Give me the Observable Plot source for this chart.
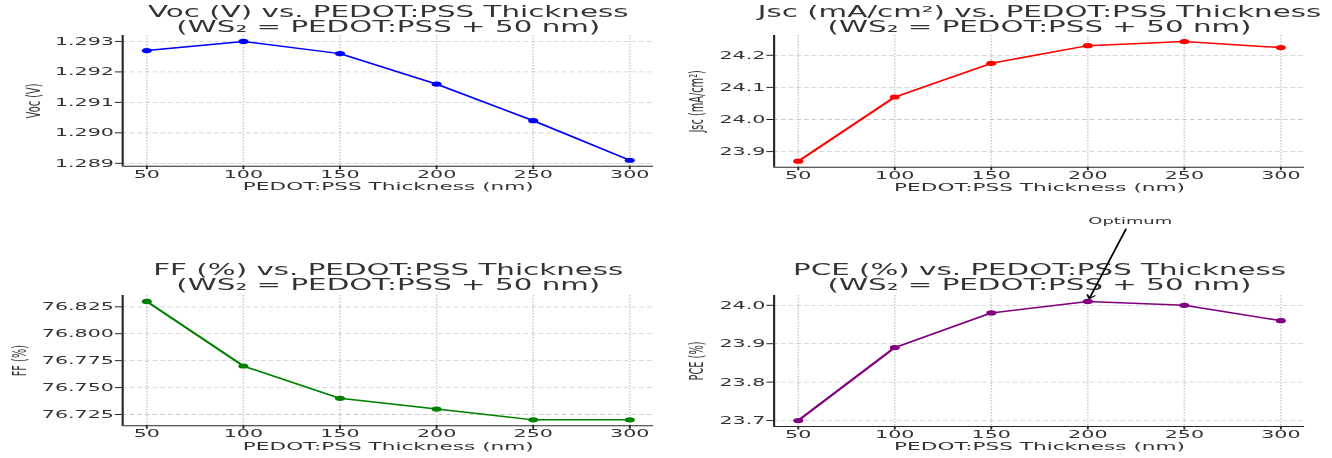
<!DOCTYPE html>
<html>
<head>
<meta charset="utf-8">
<script src="https://cdn.jsdelivr.net/npm/d3@7"></script>
<script src="https://cdn.jsdelivr.net/npm/@observablehq/plot@0.6"></script>
<style>
html, body { margin: 0; padding: 0; background: #fff; overflow: hidden; }
#wrap { position: relative; width: 690.16px; height: 458px; transform: scaleX(1.93); transform-origin: 0 0; font-family: "DejaVu Sans", sans-serif; }
.panel { position: absolute; }
.panel svg { display: block; background: transparent; overflow: visible; max-width: none; }
</style>
</head>
<body>
<div id="wrap"></div>
<script>
// ---- data ----
const thickness = [50, 100, 150, 200, 250, 300];
const voc = [1.2927, 1.2930, 1.2926, 1.2916, 1.2904, 1.2891];
const jsc = [23.87, 24.07, 24.175, 24.23, 24.243, 24.224];
const ff  = [76.83, 76.77, 76.74, 76.73, 76.72, 76.72];
const pce = [23.70, 23.89, 23.98, 24.01, 24.00, 23.96];

const xTicks   = [50, 100, 150, 200, 250, 300];
const vocTicks = [1.289, 1.290, 1.291, 1.292, 1.293];
const jscTicks = [23.9, 24.0, 24.1, 24.2];
const ffTicks  = [76.725, 76.750, 76.775, 76.800, 76.825];
const pceTicks = [23.7, 23.8, 23.9, 24.0];

const titles = [
  "Voc (V) vs. PEDOT:PSS Thickness\n(WS₂ = PEDOT:PSS + 50 nm)",
  "Jsc (mA/cm²) vs. PEDOT:PSS Thickness\n(WS₂ = PEDOT:PSS + 50 nm)",
  "FF (%) vs. PEDOT:PSS Thickness\n(WS₂ = PEDOT:PSS + 50 nm)",
  "PCE (%) vs. PEDOT:PSS Thickness\n(WS₂ = PEDOT:PSS + 50 nm)"
];
const yLabels = ["Voc (V)", "Jsc (mA/cm²)", "FF (%)", "PCE (%)"];
const xLabel = "PEDOT:PSS Thickness (nm)";
const colors = ["#0000ff", "#ff0000", "#008000", "#800080"];

// annotation (PCE panel)
const annotation = [{label: "Optimum", x: 222, y: 24.22, tx: 200, ty: 24.01}];

// ---- drawing ----
const TXT = "#333333";
function pad(ext) { const r = ext[1] - ext[0]; return [ext[0] - 0.05 * r, ext[1] + 0.05 * r]; }

function panel(o) {
  const data = thickness.map((t, i) => ({t, v: o.values[i]}));
  const xd = pad(d3.extent(thickness));
  const yd = pad(d3.extent(o.values));
  const marks = [
    Plot.ruleX(xTicks, {stroke: "#b8b8b8", strokeOpacity: 0.7, strokeWidth: 0.8, strokeDasharray: "1.5,1.5"}),
    Plot.ruleY(o.ticks, {stroke: "#b8b8b8", strokeOpacity: 0.7, strokeWidth: 0.8, strokeDasharray: "2.5,1.5"}),
    Plot.axisX({ticks: xTicks, tickSize: 3.5, tickPadding: 0.5, fontSize: 10.7, tickFormat: d3.format("d"), label: null, stroke: "#262626"}),
    Plot.axisY({ticks: o.ticks, tickSize: 3.5, tickPadding: 1, fontSize: 10.7, tickFormat: d3.format(o.fmt), label: null, stroke: "#262626"}),
    Plot.ruleX([xd[0]], {stroke: "#262626", strokeWidth: 1.1}),
    Plot.ruleY([yd[0]], {stroke: "#262626", strokeWidth: 1.1}),
    Plot.text([o.title], {text: d => d, frameAnchor: "top", dy: o.titleDy, lineAnchor: "bottom", lineHeight: 1.03, fontSize: 15.2, fill: TXT}),
    Plot.text([xLabel], {text: d => d, frameAnchor: "bottom", dy: 24, lineAnchor: "bottom", fontSize: 11.2, fill: TXT}),
    Plot.text([o.ylabel], {text: d => d, frameAnchor: "left", dx: o.ylabelDx, rotate: -90, lineAnchor: "bottom", textAnchor: "middle", fontSize: 9.8, fill: TXT}),
    Plot.line(data, {x: "t", y: "v", stroke: o.color, strokeWidth: 1.5}),
    Plot.dot(data, {x: "t", y: "v", fill: o.color, r: 2.6})
  ];
  if (o.annotate) {
    marks.push(
      Plot.arrow(annotation, {x1: "x", y1: "y", x2: "tx", y2: "ty", insetStart: 8.6, insetEnd: 3, headLength: 6, stroke: "#000", strokeWidth: 1}),
      Plot.text(annotation, {x: "x", y: "y", text: "label", fontSize: 9.3, fill: TXT, lineAnchor: "middle"})
    );
  }
  const svg = Plot.plot({
    width: o.width, height: o.height,
    marginTop: o.mt, marginBottom: o.mb, marginLeft: o.ml, marginRight: o.mr,
    style: {fontFamily: "DejaVu Sans", color: TXT, background: "transparent", overflow: "visible"},
    x: {domain: xd},
    y: {domain: yd},
    marks
  });
  const div = document.createElement("div");
  div.className = "panel";
  div.style.left = o.left + "px";
  div.style.top = o.top + "px";
  div.style.width = o.width + "px";
  div.style.height = o.height + "px";
  div.appendChild(svg);
  document.getElementById("wrap").appendChild(div);
}

const W = 345.08;
panel({values: voc, ticks: vocTicks, fmt: ".3f", title: titles[0], ylabel: yLabels[0], color: colors[0],
  left: 0, top: 0, width: W, height: 200, mt: 35, mb: 34.3, ml: 63.06, mr: 6.74, titleDy: -3, ylabelDx: -42.7});
panel({values: jsc, ticks: jscTicks, fmt: ".1f", title: titles[1], ylabel: yLabels[1], color: colors[1],
  left: W, top: 0, width: W, height: 200, mt: 35, mb: 33.3, ml: 55.59, mr: 14.41, titleDy: -3, ylabelDx: -36.6});
panel({values: ff, ticks: ffTicks, fmt: ".3f", title: titles[2], ylabel: yLabels[2], color: colors[2],
  left: 0, top: 200, width: W, height: 258, mt: 95, mb: 32.7, ml: 63.06, mr: 6.74, titleDy: -5, ylabelDx: -50.3});
panel({values: pce, ticks: pceTicks, fmt: ".1f", title: titles[3], ylabel: yLabels[3], color: colors[3],
  left: W, top: 200, width: W, height: 258, mt: 95, mb: 32, ml: 55.59, mr: 14.41, titleDy: -5, ylabelDx: -36.6, annotate: true});
</script>
</body>
</html>
